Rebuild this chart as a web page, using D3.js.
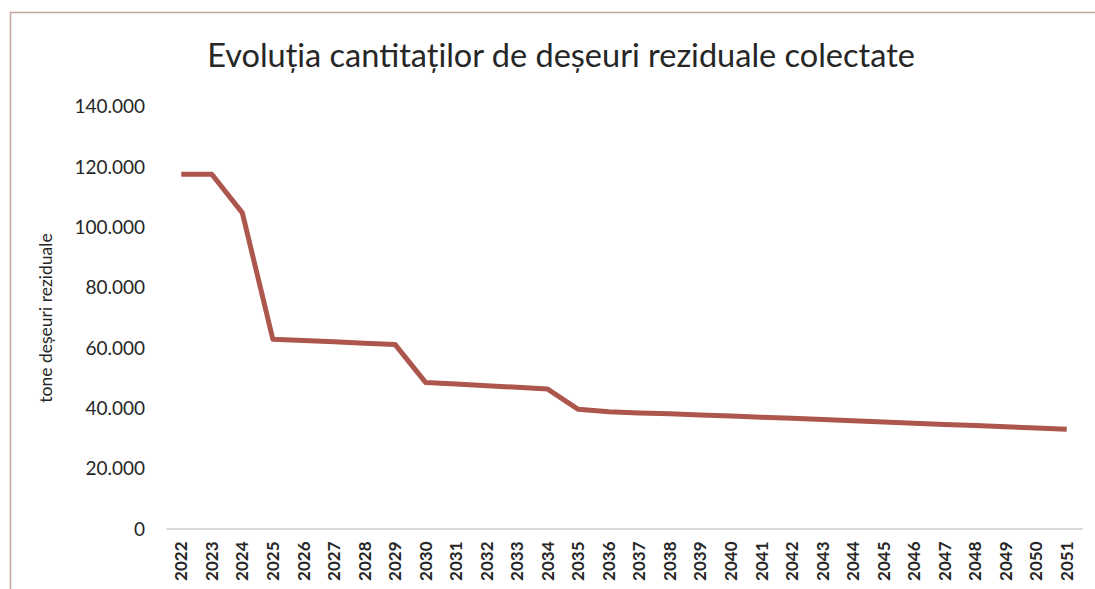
<!DOCTYPE html>
<html>
<head>
<meta charset="utf-8">
<script src="https://cdn.jsdelivr.net/npm/d3@7"></script>
<style>
  body { margin: 0; background: #fff; }
  svg { display: block; font-family: Lato, "Open Sans", sans-serif; }
  .tick text { fill: #262626; }
</style>
</head>
<body>
<script>
const years = d3.range(2022, 2052).map(String);
const tonnes = [
    117400, 117400, 104600, 62700, 62300, 61900, 61400, 61000,
    48400, 47900, 47300, 46800, 46200, 39500, 38700, 38300,
    38000, 37600, 37300, 36900, 36500, 36100, 35700, 35300,
    34900, 34500, 34100, 33700, 33300, 32900
];
const yTicks = [0, 20000, 40000, 60000, 80000, 100000, 120000, 140000];
const title = "Evoluția cantitaților de deșeuri reziduale colectate";
const yTitle = "tone deșeuri reziduale";

const width = 1095, height = 589;
const margin = { top: 106, right: 13, bottom: 60.5, left: 166 };

const data = years.map((y, i) => ({ year: y, value: tonnes[i] }));

const ro = d3.formatLocale({ decimal: ",", thousands: ".", grouping: [3], currency: ["", ""] });
const fmt = ro.format(",d");

const x = d3.scaleBand()
    .domain(years)
    .range([margin.left, width - margin.right]);
const y = d3.scaleLinear()
    .domain([0, 140000])
    .range([height - margin.bottom, margin.top]);

const svg = d3.select("body")
    .append("svg")
    .attr("width", width)
    .attr("height", height);

// chart frame (only top and left edges are visible in the crop)
svg.append("path")
    .attr("d", "M10.5," + height + "V12.5H" + width)
    .attr("fill", "none")
    .attr("stroke", "#c4a59e")
    .attr("stroke-width", 1.5);

svg.append("text")
    .attr("x", 561)
    .attr("y", 67)
    .attr("text-anchor", "middle")
    .attr("font-size", 32.5)
    .attr("fill", "#262626")
    .text(title);

// y axis, no line, just labels
const yAxis = svg.append("g")
    .attr("transform", "translate(" + margin.left + ",0)")
    .call(d3.axisLeft(y).tickValues(yTicks).tickSize(0).tickPadding(21).tickFormat(fmt));
yAxis.attr("font-family", null);
yAxis.select(".domain").remove();
yAxis.selectAll("text")
    .attr("font-size", 19)
    .attr("dy", "0.36em");

svg.append("text")
    .attr("transform", "translate(52," + 318 + ") rotate(-90)")
    .attr("text-anchor", "middle")
    .attr("font-size", 17.5)
    .attr("fill", "#262626")
    .text(yTitle);

// x axis
const xAxis = svg.append("g")
    .attr("transform", "translate(0," + y(0) + ")")
    .call(d3.axisBottom(x).tickSize(0));
xAxis.attr("font-family", null);
xAxis.select(".domain")
    .attr("stroke", "#d9d9d9")
    .attr("stroke-width", 2);
xAxis.selectAll("text")
    .attr("font-size", 17)
    .attr("font-weight", "bold")
    .attr("text-anchor", "end")
    .attr("transform", "rotate(-90)")
    .attr("x", -13)
    .attr("y", 0)
    .attr("dy", "0.36em");

const line = d3.line()
    .x(d => x(d.year) + x.bandwidth() / 2)
    .y(d => y(d.value));

svg.append("path")
    .datum(data)
    .attr("fill", "none")
    .attr("stroke", "#ad564d")
    .attr("stroke-width", 5)
    .attr("stroke-linejoin", "round")
    .attr("d", line);
</script>
</body>
</html>
